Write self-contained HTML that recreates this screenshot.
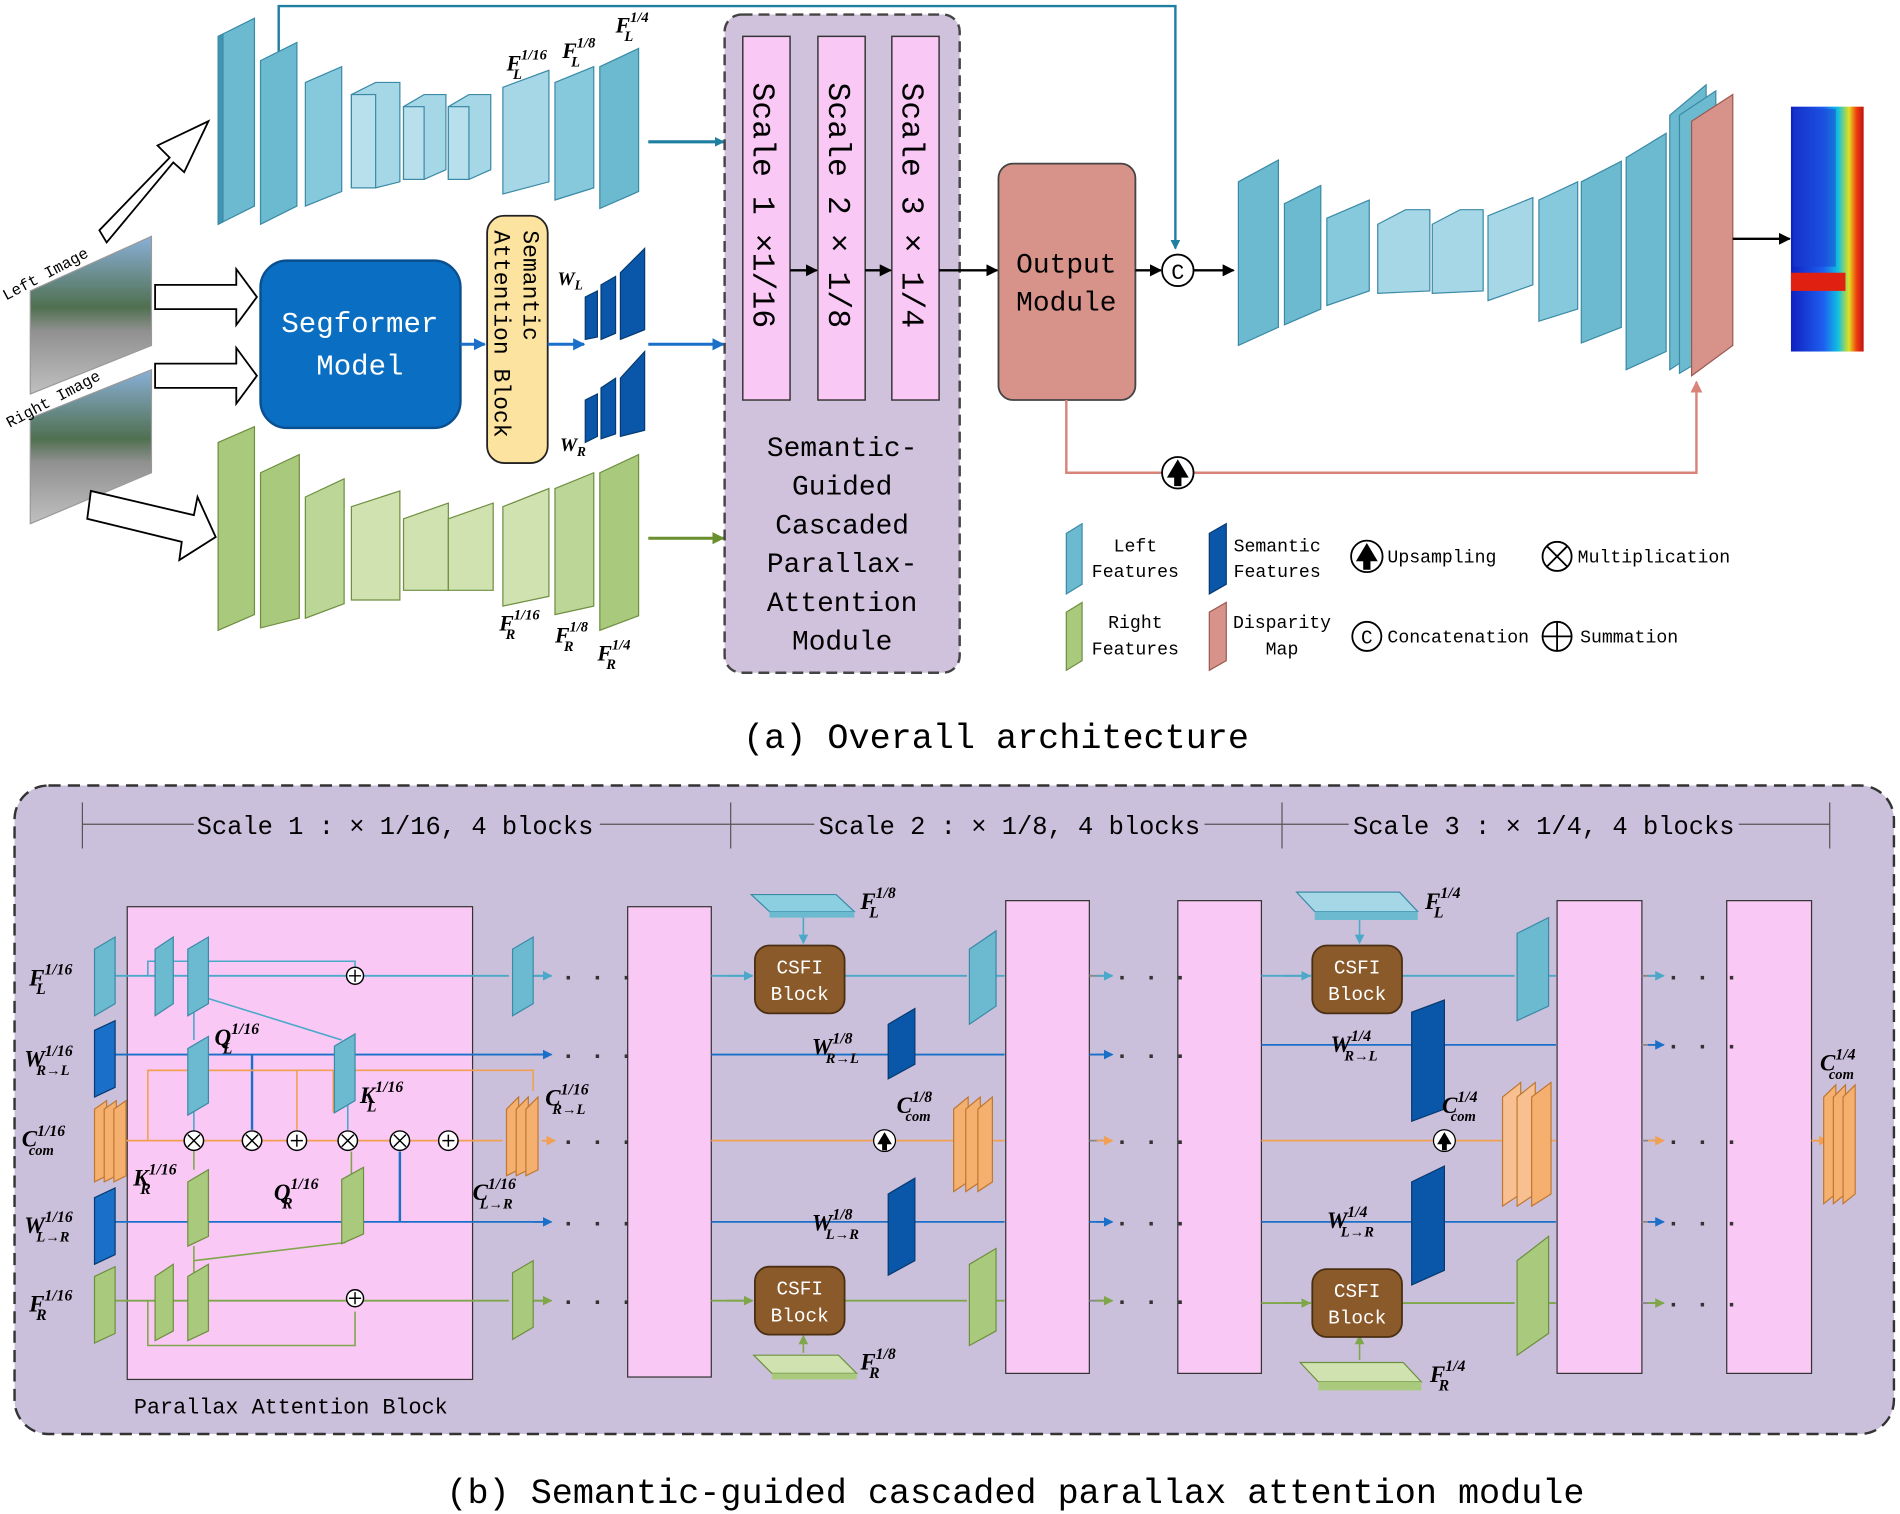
<!DOCTYPE html>
<html><head><meta charset="utf-8"><style>
html,body{margin:0;padding:0;background:#fff}
svg{display:block}
text{font-family:"Liberation Mono","Noto Sans CJK SC",monospace}
.it{font-family:"Liberation Serif",serif;font-style:italic;font-weight:bold}
</style></head><body>
<svg width="1900" height="1514" viewBox="0 0 1568 1249" preserveAspectRatio="none" xmlns="http://www.w3.org/2000/svg">
<defs>
<marker id="ab" markerWidth="8" markerHeight="8" refX="7" refY="4" orient="auto" markerUnits="userSpaceOnUse"><path d="M0,0L8,4L0,8z" fill="#1e7fa0"/></marker>
<marker id="ak" markerWidth="10" markerHeight="10" refX="9" refY="5" orient="auto" markerUnits="userSpaceOnUse"><path d="M0,0L10,5L0,10z" fill="#000"/></marker>
<marker id="ad" markerWidth="10" markerHeight="10" refX="9" refY="5" orient="auto" markerUnits="userSpaceOnUse"><path d="M0,0L10,5L0,10z" fill="#1a6fc8"/></marker>
<marker id="ag" markerWidth="10" markerHeight="10" refX="9" refY="5" orient="auto" markerUnits="userSpaceOnUse"><path d="M0,0L10,5L0,10z" fill="#6a8f2f"/></marker>
<marker id="ap" markerWidth="10" markerHeight="10" refX="9" refY="5" orient="auto" markerUnits="userSpaceOnUse"><path d="M0,0L10,5L0,10z" fill="#d9847a"/></marker>
<marker id="ao" markerWidth="8" markerHeight="8" refX="7" refY="4" orient="auto" markerUnits="userSpaceOnUse"><path d="M0,0L8,4L0,8z" fill="#f0a050"/></marker>
<marker id="as" markerWidth="8" markerHeight="8" refX="7" refY="4" orient="auto" markerUnits="userSpaceOnUse"><path d="M0,0L8,4L0,8z" fill="#4aa8c8"/></marker>
<marker id="ag2" markerWidth="8" markerHeight="8" refX="7" refY="4" orient="auto" markerUnits="userSpaceOnUse"><path d="M0,0L8,4L0,8z" fill="#7fa64a"/></marker>
<marker id="ab2" markerWidth="8" markerHeight="8" refX="7" refY="4" orient="auto" markerUnits="userSpaceOnUse"><path d="M0,0L8,4L0,8z" fill="#1a6fc8"/></marker>
<linearGradient id="heat" x1="0" x2="1"><stop offset="0" stop-color="#1020c0"/><stop offset=".45" stop-color="#1e5ff0"/><stop offset=".65" stop-color="#10c0e0"/><stop offset=".8" stop-color="#e0e020"/><stop offset=".9" stop-color="#f04010"/><stop offset="1" stop-color="#c01010"/></linearGradient>
<linearGradient id="photo" x1="0" y1="0" x2="0" y2="1"><stop offset="0" stop-color="#8ab0d8"/><stop offset=".45" stop-color="#507050"/><stop offset=".6" stop-color="#909090"/><stop offset="1" stop-color="#c0c0c0"/></linearGradient>
</defs>

<path d="M230,45 V5 H970 V205" fill="none" stroke="#1e7fa0" stroke-width="2" marker-end="url(#ab)"/>

<g stroke="#3b8aa6" stroke-width="1">
<polygon points="180,30 210,15 210,170 180,185" fill="#6bbad0"/><polygon points="180,30 184,28 184,183 180,185" fill="#3f96b4"/>
<polygon points="215,50 245,35 245,170 215,185" fill="#6bbad0"/>
<polygon points="252,68 282,55 282,158 252,170" fill="#86c8dc"/>
<polygon points="290,78 310,68 330,68 330,150 310,155 290,155" fill="#a6d7e6"/><rect x="290" y="78" width="20" height="77" fill="#b8e0ec"/>
<polygon points="333,88 350,78 368,78 368,140 350,148 333,148" fill="#a6d7e6"/><rect x="333" y="88" width="17" height="60" fill="#b8e0ec"/>
<polygon points="370,88 387,78 405,78 405,140 387,148 370,148" fill="#a6d7e6"/><rect x="370" y="88" width="17" height="60" fill="#b8e0ec"/>
<polygon points="415,72 453,58 453,150 415,160" fill="#a6d7e6"/>
<polygon points="458,68 490,55 490,155 458,165" fill="#86c8dc"/>
<polygon points="495,55 527,40 527,158 495,172" fill="#6bbad0"/>
</g>
<g stroke="#6e8f40" stroke-width="1">
<polygon points="180,365 210,352 210,507 180,520" fill="#a9c97c"/>
<polygon points="215,390 247,375 247,510 215,518" fill="#a9c97c"/>
<polygon points="252,410 284,395 284,498 252,510" fill="#bcd698"/>
<polygon points="290,418 330,405 330,495 290,495" fill="#cfe2b0"/>
<polygon points="333,428 370,415 370,487 333,487" fill="#cfe2b0"/>
<polygon points="370,428 407,415 407,487 370,487" fill="#cfe2b0"/>
<polygon points="415,418 453,403 453,492 415,500" fill="#cfe2b0"/>
<polygon points="458,403 490,390 490,500 458,507" fill="#bcd698"/>
<polygon points="495,390 527,375 527,508 495,520" fill="#a9c97c"/>
</g>
<g font-size="18">
<text x="418" y="58" class="it">F<tspan font-size="12" dy="-9">1/16</tspan><tspan font-size="12" dx="-28" dy="16">L</tspan></text>
<text x="464" y="48" class="it">F<tspan font-size="12" dy="-9">1/8</tspan><tspan font-size="12" dx="-20" dy="16">L</tspan></text>
<text x="508" y="27" class="it">F<tspan font-size="12" dy="-9">1/4</tspan><tspan font-size="12" dx="-20" dy="16">L</tspan></text>
<text x="412" y="520" class="it">F<tspan font-size="12" dy="-9">1/16</tspan><tspan font-size="12" dx="-28" dy="16">R</tspan></text>
<text x="458" y="530" class="it">F<tspan font-size="12" dy="-9">1/8</tspan><tspan font-size="12" dx="-20" dy="16">R</tspan></text>
<text x="493" y="545" class="it">F<tspan font-size="12" dy="-9">1/4</tspan><tspan font-size="12" dx="-20" dy="16">R</tspan></text>
</g>

<polygon points="25,240 125,195 125,285 25,325" fill="url(#photo)" stroke="#999"/>
<polygon points="25,345 125,305 125,390 25,432" fill="url(#photo)" stroke="#999"/>
<text x="5" y="248" font-size="13" transform="rotate(-28 5 248)">Left Image</text>
<text x="8" y="353" font-size="13" transform="rotate(-28 8 353)">Right Image</text>

<g fill="#fff" stroke="#000" stroke-width="1.5">
<polygon points="82,190 140,130 130,120 172,100 152,142 143,134 88,200"/>
<polygon points="128,235 195,235 195,222 212,245 195,268 195,255 128,255"/>
<polygon points="128,300 195,300 195,287 212,310 195,333 195,320 128,320"/>
<polygon points="75,405 160,425 163,410 178,443 148,462 150,447 72,428"/>
</g>

<rect x="215" y="215" width="165" height="138" rx="22" fill="#0a6fc2" stroke="#0a4f90" stroke-width="2"/>
<text x="297" y="274" font-size="24" fill="#fff" text-anchor="middle">Segformer</text>
<text x="297" y="309" font-size="24" fill="#fff" text-anchor="middle">Model</text>
<line x1="380" y1="284" x2="400" y2="284" stroke="#1a6fc8" stroke-width="2.5" marker-end="url(#ad)"/>
<rect x="402" y="178" width="50" height="204" rx="14" fill="#fce4a0" stroke="#222" stroke-width="1.5"/>
<text font-size="19" transform="translate(432,190) rotate(90)">Semantic</text>
<text font-size="19" transform="translate(408,190) rotate(90)">Attention Block</text>
<line x1="452" y1="284" x2="482" y2="284" stroke="#1a6fc8" stroke-width="2.5" marker-end="url(#ad)"/>
<g fill="#0a56a8" stroke="#063a70">
<polygon points="483,245 493,240 493,278 483,280"/><polygon points="496,235 508,228 508,275 496,280"/><polygon points="512,225 532,205 532,272 512,280"/>
<polygon points="483,330 493,325 493,360 483,365"/><polygon points="496,320 508,312 508,358 496,362"/><polygon points="512,312 532,290 532,355 512,360"/>
</g>
<text x="460" y="235" class="it" font-size="16">W<tspan font-size="11" dy="4">L</tspan></text>
<text x="462" y="372" class="it" font-size="16">W<tspan font-size="11" dy="4">R</tspan></text>

<line x1="535" y1="117" x2="597" y2="117" stroke="#1e7fa0" stroke-width="2.5" marker-end="url(#ab)"/>
<line x1="535" y1="284" x2="597" y2="284" stroke="#1a6fc8" stroke-width="2.5" marker-end="url(#ad)"/>
<line x1="535" y1="444" x2="597" y2="444" stroke="#6a8f2f" stroke-width="2.5" marker-end="url(#ag)"/>

<rect x="598" y="12" width="194" height="543" rx="14" fill="#d0c2dc" stroke="#444" stroke-width="2" stroke-dasharray="9,5"/>
<g fill="#f9c8f5" stroke="#333" stroke-width="1.2">
<rect x="613" y="30" width="39" height="300"/><rect x="675" y="30" width="39" height="300"/><rect x="736" y="30" width="39" height="300"/>
</g>
<g font-size="26">
<text transform="translate(622,68) rotate(90)">Scale 1 ×1/16</text>
<text transform="translate(684,68) rotate(90)">Scale 2 × 1/8</text>
<text transform="translate(745,68) rotate(90)">Scale 3 × 1/4</text>
</g>
<line x1="652" y1="223" x2="674" y2="223" stroke="#000" stroke-width="2" marker-end="url(#ak)"/>
<line x1="714" y1="223" x2="735" y2="223" stroke="#000" stroke-width="2" marker-end="url(#ak)"/>
<line x1="775" y1="223" x2="823" y2="223" stroke="#000" stroke-width="2" marker-end="url(#ak)"/>
<g font-size="23" text-anchor="middle">
<text x="695" y="376">Semantic-</text><text x="695" y="408">Guided</text><text x="695" y="440">Cascaded</text>
<text x="695" y="472">Parallax-</text><text x="695" y="504">Attention</text><text x="695" y="536">Module</text>
</g>

<rect x="824" y="135" width="113" height="195" rx="12" fill="#d7928a" stroke="#444" stroke-width="1.5"/>
<text x="880" y="225" font-size="23" text-anchor="middle">Output</text>
<text x="880" y="256" font-size="23" text-anchor="middle">Module</text>
<line x1="937" y1="223" x2="958" y2="223" stroke="#000" stroke-width="2" marker-end="url(#ak)"/>
<circle cx="972" cy="223" r="13" fill="#fff" stroke="#000" stroke-width="1.5"/>
<text x="972" y="230" font-size="18" text-anchor="middle">C</text>
<line x1="985" y1="223" x2="1018" y2="223" stroke="#000" stroke-width="2" marker-end="url(#ak)"/>

<g stroke="#3b8aa6" stroke-width="1">
<polygon points="1022,150 1055,132 1055,270 1022,285" fill="#6bbad0"/>
<polygon points="1060,168 1090,153 1090,255 1060,268" fill="#6bbad0"/>
<polygon points="1095,180 1130,165 1130,240 1095,252" fill="#86c8dc"/>
<polygon points="1137,185 1160,173 1180,173 1180,240 1137,242" fill="#a6d7e6"/>
<polygon points="1182,185 1205,173 1224,173 1224,240 1182,242" fill="#a6d7e6"/>
<polygon points="1228,178 1265,163 1265,235 1228,248" fill="#a6d7e6"/>
<polygon points="1270,165 1302,150 1302,255 1270,265" fill="#86c8dc"/>
<polygon points="1305,150 1338,133 1338,270 1305,283" fill="#6bbad0"/>
<polygon points="1342,130 1375,110 1375,290 1342,305" fill="#6bbad0"/>
<polygon points="1378,95 1408,70 1408,285 1378,305" fill="#6bbad0"/>
<polygon points="1386,95 1416,75 1416,290 1386,308" fill="#6bbad0"/>
</g>
<polygon points="1396,100 1430,78 1430,285 1396,310" fill="#d7928a" stroke="#9a5a52"/>
<line x1="1430" y1="197" x2="1477" y2="197" stroke="#000" stroke-width="2" marker-end="url(#ak)"/>
<rect x="1478" y="88" width="60" height="202" fill="url(#heat)"/>
<rect x="1478" y="225" width="45" height="15" fill="#e02010"/>
<rect x="1480" y="90" width="35" height="130" fill="#1a3fd0" opacity=".5"/>

<path d="M880,330 V390 H1400 V315" fill="none" stroke="#d9847a" stroke-width="2" marker-end="url(#ap)"/>
<circle cx="972" cy="390" r="13" fill="#fff" stroke="#000" stroke-width="1.5"/>
<path d="M972,379 L963,394 H969 V401 H975 V394 H981Z" fill="#000"/>

<polygon points="880,440 893,432 893,482 880,490" fill="#6bbad0" stroke="#3b8aa6"/>
<polygon points="880,505 893,497 893,545 880,553" fill="#a9c97c" stroke="#6e8f40"/>
<polygon points="998,440 1012,432 1012,482 998,490" fill="#0a56a8" stroke="#063a70"/>
<polygon points="998,505 1012,497 1012,545 998,553" fill="#d7928a" stroke="#9a5a52"/>
<g font-size="15">
<text x="937" y="455" text-anchor="middle">Left</text><text x="937" y="476" text-anchor="middle">Features</text>
<text x="937" y="518" text-anchor="middle">Right</text><text x="937" y="540" text-anchor="middle">Features</text>
<text x="1054" y="455" text-anchor="middle">Semantic</text><text x="1054" y="476" text-anchor="middle">Features</text>
<text x="1058" y="518" text-anchor="middle">Disparity</text><text x="1058" y="540" text-anchor="middle">Map</text>
<text x="1145" y="464">Upsampling</text><text x="1302" y="464">Multiplication</text>
<text x="1145" y="530">Concatenation</text><text x="1304" y="530">Summation</text>
</g>
<circle cx="1128" cy="459" r="13" fill="#fff" stroke="#000" stroke-width="1.5"/><path d="M1128,448 L1119,463 H1125 V470 H1131 V463 H1137Z"/>
<circle cx="1285" cy="459" r="12" fill="#fff" stroke="#000" stroke-width="1.5"/><path d="M1277,451 L1293,467 M1293,451 L1277,467" stroke="#000" stroke-width="1.5"/>
<circle cx="1128" cy="525" r="12" fill="#fff" stroke="#000" stroke-width="1.5"/><text x="1128" y="531" font-size="16" text-anchor="middle">C</text>
<circle cx="1285" cy="525" r="12" fill="#fff" stroke="#000" stroke-width="1.5"/><path d="M1285,513 V537 M1273,525 H1297" stroke="#000" stroke-width="1.5"/>

<text x="822" y="617" font-size="29" text-anchor="middle">(a) Overall architecture</text>

<rect x="12" y="648" width="1551" height="535" rx="28" fill="#cbc0db" stroke="#333" stroke-width="2" stroke-dasharray="10,6"/>
<g stroke="#555" stroke-width="1">
<line x1="68" y1="680" x2="1510" y2="680"/>
<line x1="68" y1="662" x2="68" y2="700"/><line x1="603" y1="662" x2="603" y2="700"/><line x1="1058" y1="662" x2="1058" y2="700"/><line x1="1510" y1="662" x2="1510" y2="700"/>
</g>
<g font-size="21" text-anchor="middle">
<rect x="160" y="668" width="335" height="24" fill="#cbc0db"/><text x="326" y="688">Scale 1 : × 1/16, 4 blocks</text>
<rect x="672" y="668" width="322" height="24" fill="#cbc0db"/><text x="833" y="688">Scale 2 : × 1/8, 4 blocks</text>
<rect x="1113" y="668" width="322" height="24" fill="#cbc0db"/><text x="1274" y="688">Scale 3 : × 1/4, 4 blocks</text>
</g>

<rect x="105" y="748" width="285" height="390" fill="#f9c8f5" stroke="#333"/>
<text x="240" y="1166" font-size="18" text-anchor="middle">Parallax Attention Block</text>
<g fill="#f9c8f5" stroke="#333">
<rect x="518" y="748" width="69" height="388"/>
<rect x="830" y="743" width="69" height="390"/><rect x="972" y="743" width="69" height="390"/>
<rect x="1285" y="743" width="70" height="390"/><rect x="1425" y="743" width="70" height="390"/>
</g>

<g stroke-width="1.5" fill="none">
<path d="M95,805 H420 M440,805 H455" stroke="#4aa8c8"/>
<path d="M95,870 H455" stroke="#1a6fc8"/>
<path d="M100,941 H415" stroke="#f0a050"/>
<path d="M95,1008 H455" stroke="#1a6fc8"/>
<path d="M95,1073 H420 M440,1073 H455" stroke="#7fa64a"/>
<path d="M587,805 H620 M697,805 H798 M822,805 H829" stroke="#4aa8c8"/>
<path d="M587,870 H829 M899,870 H915" stroke="#1a6fc8"/>
<path d="M587,941 H829" stroke="#f0a050"/>
<path d="M587,1008 H829 M899,1008 H915" stroke="#1a6fc8"/>
<path d="M587,1073 H620 M697,1073 H798 M822,1073 H829" stroke="#7fa64a"/>
<path d="M899,805 H915 M899,941 H915 M899,1073 H915" stroke="#888"/>
<path d="M1041,805 H1082 M1157,805 H1250 M1278,805 H1284" stroke="#4aa8c8"/>
<path d="M1041,862 H1284" stroke="#1a6fc8"/>
<path d="M1041,941 H1284" stroke="#f0a050"/>
<path d="M1041,1008 H1284" stroke="#1a6fc8"/>
<path d="M1041,1075 H1082 M1157,1075 H1250 M1278,1075 H1284" stroke="#7fa64a"/>
<path d="M1355,805 H1370 M1355,862 H1370 M1355,941 H1370 M1355,1008 H1370 M1355,1075 H1370" stroke="#888"/>
<path d="M1495,941 H1508" stroke="#f0a050"/>
</g>
<g stroke-width="1.5">
<line x1="440" y1="805" x2="455" y2="805" stroke="#4aa8c8" marker-end="url(#as)"/>
<line x1="440" y1="870" x2="455" y2="870" stroke="#1a6fc8" marker-end="url(#ab2)"/>
<line x1="447" y1="941" x2="458" y2="941" stroke="#f0a050" marker-end="url(#ao)"/>
<line x1="440" y1="1008" x2="455" y2="1008" stroke="#1a6fc8" marker-end="url(#ab2)"/>
<line x1="440" y1="1073" x2="455" y2="1073" stroke="#7fa64a" marker-end="url(#ag2)"/>
<line x1="600" y1="805" x2="621" y2="805" stroke="#4aa8c8" marker-end="url(#as)"/>
<line x1="600" y1="1073" x2="621" y2="1073" stroke="#7fa64a" marker-end="url(#ag2)"/>
<line x1="1060" y1="805" x2="1081" y2="805" stroke="#4aa8c8" marker-end="url(#as)"/>
<line x1="1060" y1="1075" x2="1081" y2="1075" stroke="#7fa64a" marker-end="url(#ag2)"/>
<line x1="905" y1="805" x2="918" y2="805" stroke="#4aa8c8" marker-end="url(#as)"/>
<line x1="905" y1="870" x2="918" y2="870" stroke="#1a6fc8" marker-end="url(#ab2)"/>
<line x1="905" y1="941" x2="918" y2="941" stroke="#f0a050" marker-end="url(#ao)"/>
<line x1="905" y1="1008" x2="918" y2="1008" stroke="#1a6fc8" marker-end="url(#ab2)"/>
<line x1="905" y1="1073" x2="918" y2="1073" stroke="#7fa64a" marker-end="url(#ag2)"/>
<line x1="1360" y1="805" x2="1373" y2="805" stroke="#4aa8c8" marker-end="url(#as)"/>
<line x1="1360" y1="862" x2="1373" y2="862" stroke="#1a6fc8" marker-end="url(#ab2)"/>
<line x1="1360" y1="941" x2="1373" y2="941" stroke="#f0a050" marker-end="url(#ao)"/>
<line x1="1360" y1="1008" x2="1373" y2="1008" stroke="#1a6fc8" marker-end="url(#ab2)"/>
<line x1="1360" y1="1075" x2="1373" y2="1075" stroke="#7fa64a" marker-end="url(#ag2)"/>
<line x1="1495" y1="941" x2="1508" y2="941" stroke="#f0a050" marker-end="url(#ao)"/>
</g>
<g font-size="20" font-weight="bold" fill="#333">
<text x="463" y="812">· · ·</text><text x="463" y="877">· · ·</text><text x="463" y="948">· · ·</text><text x="463" y="1015">· · ·</text><text x="463" y="1080">· · ·</text>
<text x="920" y="812">· · ·</text><text x="920" y="877">· · ·</text><text x="920" y="948">· · ·</text><text x="920" y="1015">· · ·</text><text x="920" y="1080">· · ·</text>
<text x="1375" y="812">· · ·</text><text x="1375" y="869">· · ·</text><text x="1375" y="948">· · ·</text><text x="1375" y="1015">· · ·</text><text x="1375" y="1082">· · ·</text>
</g>

<g fill="none" stroke-width="1.3">
<path d="M122,805 V793 H293 V798" stroke="#4aa8c8"/>
<path d="M160,820 L282,858" stroke="#4aa8c8"/>
<path d="M160,835 V858" stroke="#4aa8c8"/>
<path d="M160,915 V935" stroke="#4aa8c8"/>
<path d="M208,870 V932" stroke="#1a6fc8" stroke-width="2"/>
<path d="M287,905 V932" stroke="#4aa8c8"/>
<path d="M122,941 V883 H440 V900" stroke="#f0a050"/>
<path d="M122,883 H245 V932" stroke="#f0a050"/>
<path d="M275,918 V883" stroke="#f0a050"/>
<path d="M330,1008 V950" stroke="#1a6fc8" stroke-width="2"/>
<path d="M160,948 V965" stroke="#7fa64a"/>
<path d="M290,990 V950" stroke="#7fa64a"/>
<path d="M160,1040 L285,1025" stroke="#7fa64a"/>
<path d="M122,1073 V1110 H293 V1082" stroke="#7fa64a"/>
<path d="M160,1055 V1028" stroke="#7fa64a"/>
</g>
<g fill="#fff" stroke="#000" stroke-width="1.2">
<circle cx="293" cy="805" r="7"/><circle cx="160" cy="941" r="8"/><circle cx="208" cy="941" r="8"/><circle cx="245" cy="941" r="8"/>
<circle cx="287" cy="941" r="8"/><circle cx="330" cy="941" r="8"/><circle cx="370" cy="941" r="8"/><circle cx="293" cy="1071" r="7"/>
</g>
<g stroke="#000" stroke-width="1.2">
<path d="M288,805H298M293,800V810 M288,1071H298M293,1066V1076 M240,941H250M245,936V946 M365,941H375M370,936V946"/>
<path d="M155,936L165,946M165,936L155,946 M203,936L213,946M213,936L203,946 M282,936L292,946M292,936L282,946 M325,936L335,946M335,936L325,946"/>
</g>

<g stroke="#3b8aa6">
<polygon points="78,783 95,773 95,828 78,838" fill="#6bbad0"/>
<polygon points="128,783 143,773 143,828 128,838" fill="#6bbad0"/>
<polygon points="155,783 172,773 172,828 155,838" fill="#6bbad0"/>
<polygon points="155,865 172,855 172,910 155,920" fill="#6bbad0"/>
<polygon points="276,863 293,853 293,908 276,918" fill="#6bbad0"/>
<polygon points="423,783 440,773 440,828 423,838" fill="#6bbad0"/>
<polygon points="800,783 822,768 822,830 800,845" fill="#6bbad0"/>
<polygon points="1252,770 1278,757 1278,830 1252,842" fill="#6bbad0"/>
</g>
<g stroke="#063a70" fill="#1a6fc8">
<polygon points="78,850 95,842 95,897 78,905"/>
<polygon points="78,988 95,980 95,1035 78,1043"/>
<polygon points="733,845 755,832 755,878 733,890" fill="#0a56a8"/>
<polygon points="733,985 755,972 755,1040 733,1052" fill="#0a56a8"/>
<polygon points="1165,835 1192,825 1192,915 1165,925" fill="#0a56a8"/>
<polygon points="1165,975 1192,962 1192,1048 1165,1060" fill="#0a56a8"/>
</g>
<g stroke="#c07830" fill="#f5b070">
<polygon points="78,915 88,908 88,970 78,975"/><polygon points="86,915 96,908 96,970 86,975"/><polygon points="94,915 104,908 104,970 94,975"/>
<polygon points="418,915 428,905 428,965 418,970"/><polygon points="426,915 436,905 436,965 426,970"/><polygon points="434,915 444,905 444,965 434,970"/>
<polygon points="787,915 799,905 799,975 787,983"/><polygon points="797,915 809,905 809,975 797,983"/><polygon points="807,915 819,905 819,975 807,983"/>
<polygon points="1240,905 1255,893 1255,985 1240,995" fill="#f8c090"/><polygon points="1252,905 1267,893 1267,985 1252,995" fill="#f8c090"/><polygon points="1264,905 1280,893 1280,985 1264,995"/>
<polygon points="1505,905 1515,895 1515,985 1505,993"/><polygon points="1513,905 1523,895 1523,985 1513,993"/><polygon points="1521,905 1531,895 1531,985 1521,993"/>
</g>
<g stroke="#6e8f40" fill="#a9c97c">
<polygon points="78,1053 95,1045 95,1100 78,1108"/>
<polygon points="128,1053 143,1043 143,1098 128,1106"/>
<polygon points="155,1053 172,1043 172,1098 155,1106"/>
<polygon points="155,975 172,965 172,1020 155,1028"/>
<polygon points="282,973 300,963 300,1018 282,1026"/>
<polygon points="423,1050 440,1040 440,1095 423,1105"/>
<polygon points="800,1043 822,1030 822,1098 800,1110"/>
<polygon points="1252,1040 1278,1020 1278,1100 1252,1118"/>
</g>
<polygon points="620,738 690,738 705,752 635,752" fill="#8ccfe0" stroke="#3b8aa6"/><rect x="635" y="752" width="70" height="5" fill="#6bbad0"/>
<polygon points="1070,736 1155,736 1170,752 1085,752" fill="#a6d7e6" stroke="#3b8aa6"/><rect x="1085" y="752" width="85" height="7" fill="#6bbad0"/>
<polygon points="622,1118 692,1118 707,1133 637,1133" fill="#cfe2b0" stroke="#6e8f40"/><rect x="637" y="1133" width="70" height="5" fill="#a9c97c"/>
<polygon points="1073,1124 1158,1124 1173,1140 1088,1140" fill="#cfe2b0" stroke="#6e8f40"/><rect x="1088" y="1140" width="85" height="7" fill="#a9c97c"/>
<g stroke-width="1.3">
<line x1="663" y1="757" x2="663" y2="778" stroke="#4aa8c8" marker-end="url(#as)"/>
<line x1="663" y1="1116" x2="663" y2="1102" stroke="#7fa64a" marker-end="url(#ag2)"/>
<line x1="1122" y1="759" x2="1122" y2="778" stroke="#4aa8c8" marker-end="url(#as)"/>
<line x1="1122" y1="1122" x2="1122" y2="1102" stroke="#7fa64a" marker-end="url(#ag2)"/>
</g>
<g fill="#8b5a2b" stroke="#4a2f12" stroke-width="1.5">
<rect x="623" y="780" width="74" height="56" rx="12"/><rect x="623" y="1045" width="74" height="56" rx="12"/>
<rect x="1083" y="780" width="74" height="56" rx="12"/><rect x="1083" y="1047" width="74" height="56" rx="12"/>
</g>
<g fill="#fff" font-size="16" text-anchor="middle">
<text x="660" y="803">CSFI</text><text x="660" y="825">Block</text>
<text x="660" y="1068">CSFI</text><text x="660" y="1090">Block</text>
<text x="1120" y="803">CSFI</text><text x="1120" y="825">Block</text>
<text x="1120" y="1070">CSFI</text><text x="1120" y="1092">Block</text>
</g>
<circle cx="730" cy="941" r="9" fill="#fff" stroke="#000"/><path d="M730,934 L724,944 H728 V949 H732 V944 H736Z"/>
<circle cx="1192" cy="941" r="9" fill="#fff" stroke="#000"/><path d="M1192,934 L1186,944 H1190 V949 H1194 V944 H1198Z"/>

<g font-size="19">
<text x="24" y="813" class="it">F<tspan font-size="13" dy="-9">1/16</tspan><tspan font-size="13" dx="-30" dy="16">L</tspan></text>
<text x="20" y="880" class="it">W<tspan font-size="13" dy="-9">1/16</tspan><tspan font-size="12" dx="-30" dy="16">R→L</tspan></text>
<text x="18" y="946" class="it">C<tspan font-size="13" dy="-9">1/16</tspan><tspan font-size="12" dx="-30" dy="16">com</tspan></text>
<text x="20" y="1017" class="it">W<tspan font-size="13" dy="-9">1/16</tspan><tspan font-size="12" dx="-30" dy="16">L→R</tspan></text>
<text x="24" y="1082" class="it">F<tspan font-size="13" dy="-9">1/16</tspan><tspan font-size="13" dx="-30" dy="16">R</tspan></text>
<text x="177" y="862" class="it">Q<tspan font-size="13" dy="-9">1/16</tspan><tspan font-size="13" dx="-30" dy="16">L</tspan></text>
<text x="297" y="910" class="it">K<tspan font-size="13" dy="-9">1/16</tspan><tspan font-size="13" dx="-30" dy="16">L</tspan></text>
<text x="110" y="978" class="it">K<tspan font-size="13" dy="-9">1/16</tspan><tspan font-size="13" dx="-30" dy="16">R</tspan></text>
<text x="226" y="990" class="it">Q<tspan font-size="13" dy="-9">1/16</tspan><tspan font-size="13" dx="-30" dy="16">R</tspan></text>
<text x="450" y="912" class="it">C<tspan font-size="13" dy="-9">1/16</tspan><tspan font-size="12" dx="-30" dy="16">R→L</tspan></text>
<text x="390" y="990" class="it">C<tspan font-size="13" dy="-9">1/16</tspan><tspan font-size="12" dx="-30" dy="16">L→R</tspan></text>
<text x="710" y="750" class="it">F<tspan font-size="13" dy="-9">1/8</tspan><tspan font-size="13" dx="-22" dy="16">L</tspan></text>
<text x="710" y="1130" class="it">F<tspan font-size="13" dy="-9">1/8</tspan><tspan font-size="13" dx="-22" dy="16">R</tspan></text>
<text x="670" y="870" class="it">W<tspan font-size="13" dy="-9">1/8</tspan><tspan font-size="12" dx="-22" dy="16">R→L</tspan></text>
<text x="670" y="1015" class="it">W<tspan font-size="13" dy="-9">1/8</tspan><tspan font-size="12" dx="-22" dy="16">L→R</tspan></text>
<text x="740" y="918" class="it">C<tspan font-size="13" dy="-9">1/8</tspan><tspan font-size="12" dx="-22" dy="16">com</tspan></text>
<text x="1176" y="750" class="it">F<tspan font-size="13" dy="-9">1/4</tspan><tspan font-size="13" dx="-22" dy="16">L</tspan></text>
<text x="1180" y="1140" class="it">F<tspan font-size="13" dy="-9">1/4</tspan><tspan font-size="13" dx="-22" dy="16">R</tspan></text>
<text x="1098" y="868" class="it">W<tspan font-size="13" dy="-9">1/4</tspan><tspan font-size="12" dx="-22" dy="16">R→L</tspan></text>
<text x="1095" y="1013" class="it">W<tspan font-size="13" dy="-9">1/4</tspan><tspan font-size="12" dx="-22" dy="16">L→R</tspan></text>
<text x="1190" y="918" class="it">C<tspan font-size="13" dy="-9">1/4</tspan><tspan font-size="12" dx="-22" dy="16">com</tspan></text>
<text x="1502" y="883" class="it">C<tspan font-size="13" dy="-9">1/4</tspan><tspan font-size="12" dx="-22" dy="16">com</tspan></text>
</g>

<text x="838" y="1240" font-size="29" text-anchor="middle">(b) Semantic-guided cascaded parallax attention module</text>
</svg>
</body></html>
